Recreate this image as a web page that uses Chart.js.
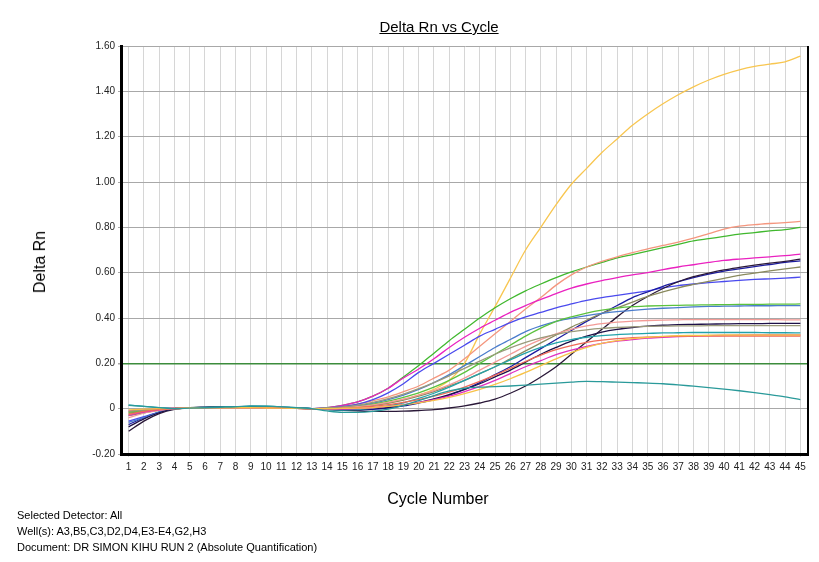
<!DOCTYPE html>
<html>
<head>
<meta charset="utf-8">
<script src="https://cdn.jsdelivr.net/npm/chart.js@4.4.1/dist/chart.umd.min.js"></script>
<style>
  html, body { margin: 0; padding: 0; background: #fff; }
  #wrap { position: relative; width: 819px; height: 562px; overflow: hidden; font-family: "Liberation Sans", Arial, sans-serif; color: #000; }
  #c { position: absolute; left: 0; top: 0; }
  .t { position: absolute; white-space: nowrap; }
  #title { left: 0; width: 878px; top: 18px; text-align: center; font-size: 15px; text-decoration: underline; }
  #xtitle { left: 0; width: 876px; top: 490px; text-align: center; font-size: 16px; }
  #ytitle { left: 40px; top: 262px; font-size: 16px; transform: translate(-50%, -50%) rotate(-90deg); }
  #footer { left: 17px; top: 507px; font-size: 11px; line-height: 16px; }
</style>
</head>
<body>
<div id="wrap">
  <canvas id="c" width="819" height="562"></canvas>
  <div class="t" id="title">Delta Rn vs Cycle</div>
  <div class="t" id="ytitle">Delta Rn</div>
  <div class="t" id="xtitle">Cycle Number</div>
  <div class="t" id="footer">Selected Detector: All<br>Well(s): A3,B5,C3,D2,D4,E3-E4,G2,H3<br>Document: DR SIMON KIHU RUN 2 (Absolute Quantification)</div>
</div>
<script>
const cycles = Array.from({length: 45}, (_, i) => i + 1);
const yTicks = [-0.2, 0, 0.2, 0.4, 0.6, 0.8, 1.0, 1.2, 1.4, 1.6];
const threshold = 0.2;

const yellowBig = [-0.02,-0.01,0.0, 0.002,0.005,0.006,0.006,0.005,0.005,0.004,0.003,0.001,0.0, 0.002,0.005,0.01,0.015,0.025,0.04,0.06,0.085,0.125, 0.20,0.33,0.45,0.575,0.70,0.80,0.90,0.99,1.06,1.13,1.19,1.25,1.30,1.345,1.385,1.42,1.45,1.475,1.495,1.51,1.52,1.53,1.555];
const salmon = [-0.025,-0.012,-0.004, 0.0,0.004,0.005,0.006,0.006,0.006,0.005,0.004,0.002,0.0, 0.003,0.01,0.02,0.035,0.052,0.075,0.10,0.135,0.17, 0.22,0.275,0.33,0.385,0.44,0.49,0.545,0.59,0.625,0.65,0.67,0.688,0.705,0.72,0.735,0.752,0.772,0.792,0.805,0.812,0.817,0.821,0.826];
const green = [-0.03,-0.018,-0.008, 0.0,0.004,0.005,0.006,0.007,0.007,0.006,0.004,0.002,0.0, 0.005,0.015,0.03,0.055,0.09,0.14,0.19,0.245,0.30, 0.35,0.40,0.445,0.485,0.52,0.55,0.578,0.603,0.625,0.645,0.665,0.68,0.695,0.71,0.725,0.74,0.75,0.76,0.77,0.777,0.784,0.79,0.80];
const magenta = [-0.01,-0.005,0.0, 0.003,0.005,0.005,0.005,0.004,0.004,0.003,0.002,0.001,0.0, 0.005,0.015,0.03,0.055,0.09,0.135,0.175,0.22,0.27, 0.315,0.355,0.39,0.425,0.455,0.482,0.508,0.532,0.55,0.565,0.578,0.59,0.60,0.613,0.625,0.635,0.645,0.654,0.66,0.665,0.67,0.675,0.682];
const blue = [-0.055,-0.035,-0.015, 0.0,0.004,0.005,0.006,0.006,0.006,0.005,0.004,0.002,0.0, 0.003,0.01,0.02,0.04,0.07,0.11,0.16,0.20,0.24, 0.28,0.32,0.35,0.38,0.405,0.425,0.445,0.462,0.478,0.49,0.50,0.51,0.52,0.533,0.543,0.55,0.556,0.561,0.566,0.57,0.573,0.576,0.58];
const navy = [-0.07,-0.04,-0.015, 0.0,0.005,0.006,0.006,0.007,0.008,0.008,0.006,0.003,0.0, -0.003,-0.006,-0.006,-0.003,0.003,0.012,0.025,0.04,0.06, 0.085,0.115,0.15,0.185,0.225,0.265,0.305,0.345,0.385,0.42,0.455,0.49,0.515,0.54,0.56,0.578,0.594,0.607,0.617,0.627,0.636,0.645,0.652];
const blackLate = [-0.10,-0.055,-0.022, -0.003,0.004,0.006,0.007,0.007,0.008,0.008,0.006,0.003,0.0, -0.003,-0.007,-0.01,-0.012,-0.012,-0.011,-0.008,-0.004,0.003, 0.012,0.025,0.042,0.068,0.10,0.14,0.185,0.24,0.295,0.35,0.405,0.455,0.495,0.53,0.56,0.582,0.598,0.612,0.623,0.633,0.642,0.65,0.66];
const oliveHigh = [-0.02,-0.012,-0.005, 0.0,0.004,0.005,0.005,0.006,0.006,0.005,0.004,0.002,0.0, 0.001,0.003,0.008,0.015,0.025,0.038,0.055,0.075,0.10, 0.125,0.155,0.185,0.22,0.255,0.29,0.325,0.36,0.39,0.42,0.445,0.47,0.495,0.515,0.533,0.548,0.562,0.575,0.588,0.598,0.608,0.617,0.625];
const greenLight = [-0.015,-0.008,-0.003, 0.0,0.004,0.005,0.006,0.006,0.007,0.006,0.004,0.002,0.0, 0.002,0.005,0.01,0.02,0.033,0.05,0.07,0.095,0.125, 0.16,0.20,0.24,0.28,0.32,0.355,0.385,0.405,0.422,0.435,0.444,0.45,0.453,0.455,0.456,0.457,0.458,0.459,0.46,0.46,0.461,0.461,0.462];
const steelBlue = [-0.06,-0.04,-0.015, 0.0,0.004,0.006,0.007,0.008,0.009,0.008,0.006,0.003,0.0, 0.0,0.004,0.012,0.024,0.04,0.06,0.085,0.115,0.15, 0.19,0.23,0.27,0.305,0.34,0.365,0.385,0.398,0.41,0.42,0.428,0.434,0.439,0.443,0.446,0.449,0.451,0.452,0.453,0.454,0.454,0.455,0.455];
const pinkLight = [-0.04,-0.02,-0.008, 0.0,0.004,0.005,0.005,0.005,0.005,0.004,0.003,0.002,0.0, 0.001,0.004,0.009,0.017,0.028,0.042,0.06,0.08,0.105, 0.135,0.17,0.205,0.24,0.275,0.305,0.33,0.35,0.365,0.375,0.382,0.386,0.389,0.391,0.392,0.393,0.393,0.393,0.393,0.393,0.393,0.392,0.392];
const darkNavy = [-0.08,-0.045,-0.018, 0.0,0.005,0.006,0.007,0.007,0.008,0.007,0.005,0.003,0.0, -0.002,-0.004,-0.003,0.0,0.006,0.015,0.027,0.043,0.062, 0.085,0.11,0.14,0.17,0.205,0.24,0.27,0.298,0.32,0.338,0.35,0.358,0.364,0.368,0.371,0.372,0.373,0.374,0.375,0.375,0.376,0.376,0.376];
const oliveLow = [-0.012,-0.006,-0.002, 0.0,0.003,0.004,0.005,0.005,0.005,0.004,0.003,0.001,0.0, 0.003,0.008,0.016,0.028,0.044,0.064,0.088,0.115,0.145, 0.178,0.21,0.24,0.268,0.292,0.312,0.328,0.34,0.348,0.354,0.358,0.361,0.363,0.364,0.365,0.365,0.366,0.366,0.366,0.366,0.366,0.366,0.366];
const teal = [0.016,0.01,0.004, 0.001,0.004,0.006,0.007,0.008,0.011,0.011,0.008,0.004,0.0, -0.004,-0.006,-0.004,0.002,0.012,0.026,0.045,0.068,0.095, 0.125,0.155,0.185,0.215,0.245,0.27,0.29,0.305,0.315,0.322,0.327,0.33,0.332,0.334,0.335,0.336,0.336,0.336,0.336,0.336,0.335,0.335,0.334];
const red = [-0.025,-0.012,-0.004, 0.0,0.003,0.004,0.005,0.005,0.005,0.004,0.003,0.001,0.0, 0.0,0.002,0.005,0.01,0.018,0.028,0.04,0.055,0.073, 0.095,0.12,0.148,0.178,0.208,0.236,0.26,0.278,0.292,0.302,0.309,0.313,0.316,0.318,0.319,0.32,0.32,0.32,0.32,0.32,0.32,0.32,0.32];
const yellowLow = [-0.005,-0.002,0.0, 0.001,0.003,0.004,0.004,0.004,0.004,0.003,0.002,0.001,0.0, 0.0,0.001,0.002,0.005,0.01,0.017,0.026,0.037,0.05, 0.066,0.085,0.107,0.132,0.16,0.19,0.22,0.247,0.27,0.288,0.30,0.309,0.315,0.319,0.322,0.323,0.324,0.325,0.325,0.325,0.325,0.325,0.325];
const magentaLow = [-0.03,-0.015,-0.005, 0.0,0.003,0.004,0.005,0.005,0.005,0.004,0.003,0.001,0.0, -0.001,-0.002,0.0,0.004,0.01,0.018,0.028,0.04,0.055, 0.075,0.098,0.125,0.155,0.185,0.212,0.238,0.258,0.275,0.288,0.298,0.305,0.311,0.315,0.318,0.32,0.322,0.323,0.324,0.325,0.325,0.325,0.325];
const tealDrop = [0.015,0.01,0.005, 0.0,0.002,0.004,0.006,0.008,0.012,0.011,0.008,0.004,0.0, -0.01,-0.016,-0.016,-0.012,-0.002,0.015,0.035,0.058,0.078, 0.09,0.095,0.097,0.10,0.104,0.108,0.113,0.117,0.12,0.119,0.117,0.115,0.113,0.11,0.105,0.099,0.093,0.086,0.079,0.071,0.062,0.052,0.04];

const series = [
  ['tealDrop', tealDrop, '#2a9a9a'],
  ['yellowLow', yellowLow, '#f7c248'],
  ['red', red, '#f06a58'],
  ['magentaLow', magentaLow, '#e030c0'],
  ['teal', teal, '#22a2aa'],
  ['oliveLow', oliveLow, '#9a9a7a'],
  ['pinkLight', pinkLight, '#f29a96'],
  ['darkNavy', darkNavy, '#1e1048'],
  ['greenLight', greenLight, '#5cc23e'],
  ['steelBlue', steelBlue, '#4a7ccc'],
  ['oliveHigh', oliveHigh, '#8a8a5e'],
  ['blackLate', blackLate, '#2a1838'],
  ['navy', navy, '#1c1ca0'],
  ['blue', blue, '#4a4aee'],
  ['magenta', magenta, '#ea22c0'],
  ['salmon', salmon, '#f4967e'],
  ['green', green, '#40b82e'],
  ['yellowBig', yellowBig, '#f8c650']
];

const rightBorder = {
  id: 'rightBorder',
  afterDraw(chart) {
    const a = chart.chartArea, ctx = chart.ctx;
    ctx.save();
    ctx.strokeStyle = '#000';
    ctx.lineWidth = 2;
    ctx.beginPath();
    ctx.moveTo(a.right, a.top);
    ctx.lineTo(a.right, a.bottom + 1);
    ctx.stroke();
    ctx.restore();
  }
};

new Chart(document.getElementById('c'), {
  type: 'line',
  data: {
    labels: cycles,
    datasets: series.map(([name, vals, col]) => ({
      label: name,
      data: vals,
      borderColor: col,
      borderWidth: 1.3,
      pointRadius: 0,
      fill: false,
      cubicInterpolationMode: 'monotone'
    }))
  },
  options: {
    responsive: false,
    animation: false,
    layout: { padding: { left: 0, right: 11, top: 46, bottom: 0 } },
    plugins: { legend: { display: false }, title: { display: false }, tooltip: { enabled: false } },
    scales: {
      x: {
        type: 'linear',
        min: 0.5,
        max: 45.5,
        afterFit(s) { s.height = 108; },
        afterBuildTicks(s) { s.ticks = cycles.map(v => ({ value: v })); },
        ticks: {
          autoSkip: false,
          maxRotation: 0,
          padding: 4,
          color: '#222',
          font: { family: '"Liberation Sans", Arial, sans-serif', size: 10 },
          callback: v => String(v)
        },
        grid: { color: '#d6d6d6', lineWidth: 1, tickLength: 3, tickColor: '#d6d6d6' },
        border: { display: true, color: '#000', width: 3 }
      },
      y: {
        min: -0.2,
        max: 1.6,
        afterFit(s) { s.width = 121; },
        afterBuildTicks(s) { s.ticks = yTicks.map(v => ({ value: v })); },
        ticks: {
          padding: 3,
          color: '#222',
          font: { family: '"Liberation Sans", Arial, sans-serif', size: 10 },
          callback: v => Math.abs(v) < 1e-9 ? '0' : v.toFixed(2)
        },
        grid: {
          color: ctx => (ctx.tick && Math.abs(ctx.tick.value - threshold) < 1e-9) ? '#3c8c3c' : '#a8a8a8',
          lineWidth: ctx => (ctx.tick && Math.abs(ctx.tick.value - threshold) < 1e-9) ? 1.5 : 1,
          tickLength: 3,
          tickColor: '#a8a8a8'
        },
        border: { display: true, color: '#000', width: 3 }
      }
    }
  },
  plugins: [rightBorder]
});
</script>
</body>
</html>
